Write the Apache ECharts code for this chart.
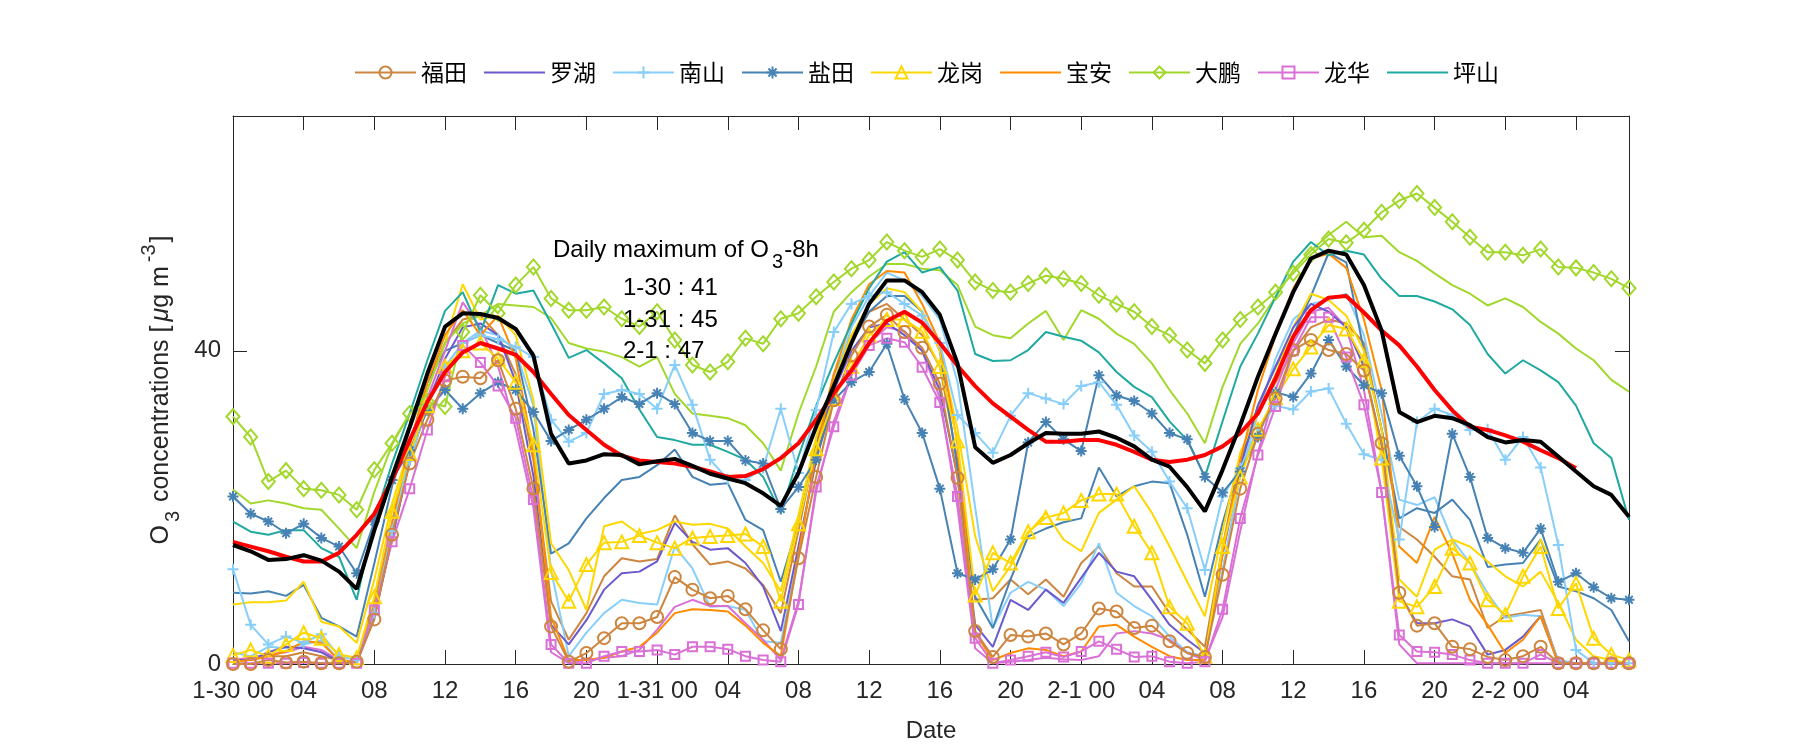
<!DOCTYPE html>
<html><head><meta charset="utf-8">
<script src="https://cdn.jsdelivr.net/npm/echarts@6/dist/echarts.min.js"></script>
<style>html,body{margin:0;padding:0;background:#fff}#c{width:1800px;height:750px}</style>
</head><body><div id="c"></div>
<script>
// ---------- tick labels / categories ----------
const dayLabels = ['1-30', '1-31', '2-1', '2-2'];
const nHours = 80;
const categories = [];
for (let i = 0; i < nHours; i++) {
  const d = Math.floor(i / 24), h = i % 24;
  categories.push(h === 0 ? dayLabels[d] + ' 00' : String(h).padStart(2, '0'));
}
const legendNames = ['福田', '罗湖', '南山', '盐田', '龙岗', '宝安', '大鹏', '龙华', '坪山'];
const dailyMaxLabels = ['1-30 : 41', '1-31 : 45', '2-1 : 47'];

// ---------- series values (hourly, O3 µg m-3) ----------
const futian = [0.0,0.0,0.5,0.2,0.3,0.1,0.1,0.3,
 5.7,16.5,25.6,31.2,36.2,36.7,36.5,38.8,32.6,22.4,
 4.8,0.3,1.4,3.3,5.2,5.2,6.0,11.1,9.5,
 8.4,8.7,7.0,4.3,1.9,13.5,23.9,
 33.7,39.4,43.1,44.6,42.4,40.4,35.8,23.8,4.2,
 0.9,3.7,3.5,3.9,2.5,3.9,7.1,6.7,4.6,4.9,
 2.9,1.4,0.9,11.4,22.4,29.4,33.9,
 40.1,41.4,40.1,39.6,37.5,28.2,9.1,4.9,5.2,2.2,1.9,0.9,0.5,1.0,2.2,0.1,0.1,0.1,0.1,0.1];
const futian2 = [0.5,0.5,1.0,1.0,1.5,1.0,0.5,0.3,
 8,18,28,36,41,44,44.5,42,37,26,
 8,3.1,6.5,11.2,13.5,13.1,13.4,19.0,15.3,
 12.7,13.1,12.2,10.1,6.5,17,28,
 37,42,45,46,44,42,38,26,8.2,
 8.4,10.8,8.9,10.8,8.6,12.9,15.0,11.6,9.9,9.9,
 6.5,4.4,2.2,15,26,32,36,
 40,43,44,43.5,41,30,17.5,15.9,13.7,11.2,10.8,4.6,6.1,6.5,6.9,0.3,0.1,0.1,0.1,0.1];
const luohu = [0.5,0.5,1.5,2.2,2.0,1.5,0.3,0.2,
 6,16,26,33,39,43,43.5,42,36,24,
 5,2.5,5.6,9.5,11.6,11.8,13.1,18.0,15.6,
 14.6,14.8,12.9,9.9,4.2,15,26,
 35,40,43,43.5,42,40,35,24,5,
 2.2,8.2,6.9,9.5,7.8,11.0,14.2,11.8,11.2,8.2,
 5.0,3.1,1.4,14,25,33,38,
 43,46,45,43,38,28,9,5.2,5.2,5.7,4.8,1.2,1.8,3.5,6.1,0.1,0.1,0.1,0.1,0.1];
const nanshan = [12.1,5.0,2.5,3.5,2.7,3.8,1.0,0.5,6.5,
 17,26,33,38,41,42,41.5,40.5,39.2,
 31.2,28.4,29.5,34.5,35.0,34.5,32.6,38.2,33.1,
 26.1,23.6,23.5,25,32.6,24.4,32.4,
 42.4,46.0,47,47.5,46,44.5,41,31.8,
 29.5,27.0,31.7,34.6,33.9,33.2,35.5,36.0,33.1,29.2,27.1,
 23.3,19.9,12.0,21.4,25,30,33,
 32.5,34.8,35.2,30.7,26.8,26.1,15.9,30.9,32.6,31.8,29.9,30.0,26.1,29.0,25.1,15.2,1.8,0.1,0.1,0.1];
const nanshan2 = [1.5,1.0,2.2,2.0,2.5,3.0,0.5,0.3,
 7,18,27,34,38,41,42.6,42,40,33,
 12,1.0,4.0,6.5,8.2,7.8,7.6,15.0,12.2,
 7.3,7.4,6.9,2.9,2.7,14,27,
 36,43,47,50,49,47,44,36,20,4.6,
 9.1,10.5,9.5,7.4,10.3,15.4,9.1,7.4,6.1,
 3.5,1.5,1.0,12,24,32,39,
 44,46,46.5,47.3,42,32,21,20.3,21.3,15.9,12.9,9,5.9,6.3,6.1,0.5,0.1,0.1,0.1,0.1];
const yantian = [21.4,19.2,18.2,16.7,17.9,16.1,15.0,11.6,18.2,23.5,27.3,32.4,
 35.0,32.6,34.6,36.0,35.0,32.2,28.5,29.9,31.2,32.6,34.1,33.2,34.6,33.2,29.5,
 28.5,28.5,26.0,25.6,19.8,22.6,26.1,33.7,36.0,37.3,40.9,33.8,29.5,22.4,11.6,10.8,12.1,15.9,28.3,30.9,28.7,27.2,36.9,34.3,33.6,32.0,
 29.5,28.7,23.9,21.9,24.6,29.0,34.7,34.1,37.1,41.4,38.0,35.6,34.6,26.6,22.7,17.5,29.4,23.9,16.1,14.8,14.2,17.3,10.5,11.6,9.8,8.4,8.2];
const yantian2 = [9.1,9.0,9.3,8.7,10.1,5.9,4.8,3.5,12.9,22.7,29.9,
 36,40,41,42,41,40,30,
 14.1,15.4,18.6,21.2,23.5,23.9,25.4,27.4,23.9,
 22.9,23.1,18.4,17.1,10.5,18,27.7,
 35,41,45,47,47,45,40,25,
 8.6,4.6,10.8,16.3,17.3,18.1,18.6,25.1,21.4,22.7,23.3,
 23.1,16.5,8.6,18,25.6,33,38,
 42,47,52.5,51.3,40,30,
 18.6,19.9,19.3,21.0,18.4,12.4,12.7,12.9,15.9,9.9,9.3,8.4,6.9,2.9];
const longgang = [1.1,1.8,1.0,2.5,4.0,3.3,1.2,0.8,8.6,19.5,26.9,
 33,38,40,41,39,36,28,
 11.7,8.0,12.7,15.5,15.6,16.4,15.5,14.8,16.1,
 16.3,16.4,16.6,15.0,8.0,17.9,27.5,
 33.9,38,42,44,44,42.5,38,28.5,
 8.8,14.2,12.9,16.9,18.7,19.3,20.9,21.7,21.7,17.6,14.2,
 7.3,5.2,1.0,15.0,23.9,30,34,
 37.7,40.5,43.3,42.8,38.8,26.3,8.0,7.3,9.9,14.8,12.9,8.2,6.3,11.2,15.0,7.1,10.3,3.3,1.2,0.5];
const longgang2 = [7.6,7.9,7.9,8.1,10.5,5.4,4.8,2.7,10.8,20.5,27.8,
 35,41,48.5,44,44.5,42,33.7,
 15.4,12.0,6.9,17.6,18.2,16.6,17.1,18.2,17.8,
 17.9,17.3,15.0,12.9,9.3,19,29,
 36,42,46,48,47.5,45,40,30,
 16.3,9.3,12.5,16.7,19.3,15.9,14.4,19.3,21.0,22.7,19.3,
 15,10.5,6.1,17,27,32,37,
 43,47.3,46.5,44.5,40,30,10.8,8.6,14.6,15.9,15.0,13.1,11.2,9.9,11.8,7.8,3.1,1.0,0.5,0.1];
const baoan = [0.3,0.5,1.0,1.6,2.9,2.7,0.5,0.2,
 7,18,28,36,42,45.2,42,44.5,39,27,
 6,0.5,0.5,0.8,1.6,2.2,4.0,6.5,7.0,
 6.9,6.7,4.9,2.7,1.0,14,27,
 37,44,48.5,50.2,50.0,46,41,28,4,
 0.5,1.4,2.0,1.8,1.0,1.6,4.8,5.0,3.5,2.2,
 1.0,0.5,0.5,14,26,35,42,
 48,51.8,52.4,50.6,44,35,15.0,12.9,18.8,14.1,8.2,5.0,1.4,3.1,6.1,0.1,0.1,0.1,0.1,0.1];
const dapeng = [31.6,29.0,23.3,24.7,22.4,22.2,21.6,19.7,24.8,28.2,32.0,33.5,32.9,
 42.4,47.1,44.8,48.4,50.7,46.7,45.2,45.2,45.6,44.1,43.1,45.0,41.4,38.2,
 37.3,38.6,41.6,40.9,44.1,44.8,46.9,48.8,50.5,51.6,53.9,52.8,52.0,53.0,51.6,48.8,47.7,47.5,48.6,49.6,49.2,48.6,47.1,46.0,45.0,43.1,
 42.0,40.1,38.4,41.4,44.0,45.6,47.5,49.9,52.3,54.3,53.8,55.4,57.7,59.2,60.1,58.3,56.5,54.5,52.6,52.6,52.2,53.0,50.7,50.6,50.0,49.2,48.0];
const dapeng2 = [22.3,20.5,20.9,20.5,19.9,19.7,17.3,14.8,
 22,28,32,35,41,
 43.5,44.5,46.0,45.8,45.6,44.2,41.0,40.3,39.9,39.2,38.0,39.2,34.5,32.0,
 31.7,31.4,30.5,28.2,24.7,
 32,38,45,47.5,49.5,51.1,51.1,50.5,50.3,48.4,43.1,42.0,41.6,43.5,45.1,41.4,45.2,44.1,42.2,40.9,38.4,
 35,32,28.2,
 35.4,40.9,43.5,46.9,50.3,52.8,54.8,56.5,54.5,54.7,52.6,51.5,49.9,48.4,47.3,45.8,46.7,45.6,43.7,42.2,40.3,38.8,36.3,34.8];
const longhua = [0.1,0.1,0.1,0.1,0.2,0.1,0.1,0.1,
 6.9,15.6,22.4,29.9,36.7,40.7,38.5,35.5,31.4,21.0,
 2.5,0.1,0.1,1.0,1.6,1.6,1.8,1.2,2.2,
 2.2,1.9,1.0,0.5,0.3,7.6,22.6,
 30.3,36.9,40.7,41.6,41.1,37.9,33.4,21.4,3.3,
 0.1,0.5,1.0,1.5,0.9,1.6,2.9,1.9,0.9,1.0,
 0.3,0.1,0.3,7.0,18.6,26.7,32.9,
 40,44.3,44.3,39.2,33.1,21.9,3.7,1.6,1.5,1.2,0.5,0.1,0.1,0.1,1.2,0.1,0.1,0.1,0.1,0.1];
const longhua2 = [0.5,0.8,1.2,1.5,2.2,1.8,0.5,0.1,
 6,16,26,34,40,46.2,43,38,30,20,
 1.5,0.1,0.5,0.8,1.0,1.8,4.4,7.3,8.2,
 7.4,7.4,5.2,3.1,0.5,8,22,
 31,37,41,43,42.5,40,34,20,2,
 0.1,0.3,0.5,0.8,0.6,0.5,1.0,3.9,4.2,3.9,
 3.1,1.4,0.5,6,17,27,35,
 41,45,45.5,43,35,22,2.5,0.1,0.1,0.1,0.1,0.1,0.1,0.1,0.1,0.1,0.1,0.1,0.1,0.1];
const pingshan = [18.2,16.9,16.5,17.1,17.1,14.8,13.7,8.2,18.4,25.6,32.0,
 38.8,45.1,47.5,42.4,48.4,47.3,47.7,43.5,39.1,40.1,38.4,36.5,32.5,
 29.0,28.6,28.0,28.0,27.1,26.1,23.9,19.3,26.5,33,
 38.5,43.5,48,51.4,52.6,50.0,50.7,47.7,39.6,38.7,38.8,40.1,42.4,41.8,41.3,39.8,37.3,35.4,34.1,
 31,28.6,23.9,31,38.0,
 42.2,46.9,51.4,53.9,52.2,52.8,52.3,49.2,47.0,47.0,46.3,45.3,43.3,39.6,37.1,38.8,37.5,36.0,33,28.2,26.3,18.4];
const meanO3 = [15.2,14.4,13.3,13.4,13.9,13.2,11.8,9.6,
 17.1,23.9,30.3,37.1,43.1,44.8,44.7,44.2,42.8,39.4,
 29.4,25.6,26.0,26.8,26.7,25.5,25.9,26.2,25.3,
 24.3,23.7,23.1,21.8,20.2,24.4,30.3,
 35.5,41,46,49,49,47.5,44.6,38.4,
 27.7,25.7,26.7,28.2,29.5,29.4,29.4,29.7,28.9,27.8,26.1,
 25.2,22.6,19.5,24.8,30.5,
 36.7,42.2,47.5,51.8,52.8,52.3,48.4,42.6,
 32.2,30.9,31.7,31.4,30.5,29.0,28.3,28.6,28.4,26.5,24.6,22.7,21.6,18.8];
const o3_8h = [15.6,15.0,14.4,13.7,13.1,13.1,14.2,16.5,19.2,23.5,28.6,
 33.5,37.3,39.8,41.0,40.3,39.5,37.3,34.5,
 31.8,29.9,28.0,26.6,26.0,25.8,25.6,25.2,
 24.6,23.9,24.0,24.9,26.3,28.2,31.2,34.6,
 37.5,41.0,43.8,45.0,43.6,41.0,38.1,35.5,33.3,
 31.6,29.9,28.4,28.4,28.6,28.6,28.0,27.1,26.1,
 25.8,26.1,26.7,27.8,29.5,32.0,
 36.5,41.8,45.2,46.8,47.0,44.9,42.6,40.7,38.0,35.0,
 32.4,30.3,29.9,29.2,28.4,27.3,26.3,25.0,
 null,null,null];

// ---------- styling ----------
const FONT = 'Liberation Sans';
const CJK = 'Noto Sans CJK SC';
const AX = '#262626';
const colors = {
  '福田': '#CD853F', '罗湖': '#6A5ACD', '南山': '#87CEFA', '盐田': '#4682B4', '龙岗': '#FFD700',
  '宝安': '#FF8C00', '大鹏': '#A2D82C', '龙华': '#DA70D6', '坪山': '#1FA9A0'
};
const SYM_PLUS = 'path://M5,0L5,10M0,5L10,5';
const SYM_STAR = 'path://M5,0L5,10M0,5L10,5M1.6,1.6L8.4,8.4M1.6,8.4L8.4,1.6';

function stationLine(name, data, sym, size, seriesName) {
  const c = colors[name];
  const s = {
    name: seriesName || name, type: 'line', data: data,
    lineStyle: { color: c, width: 2 },
    itemStyle: { color: 'rgba(255,255,255,0)' },
    symbol: 'none', z: 3
  };
  if (sym) {
    s.symbol = sym; s.symbolSize = size; s.showSymbol = true; s.showAllSymbol = true;
    s.itemStyle = { color: 'rgba(255,255,255,0)', borderColor: c, borderWidth: 2 };
  }
  return s;
}

const series = [
  stationLine('福田', futian2, null, 0, '福田 (2)'),
  stationLine('南山', nanshan2, null, 0, '南山 (2)'),
  stationLine('盐田', yantian2, null, 0, '盐田 (2)'),
  stationLine('龙岗', longgang2, null, 0, '龙岗 (2)'),
  stationLine('大鹏', dapeng2, null, 0, '大鹏 (2)'),
  stationLine('龙华', longhua2, null, 0, '龙华 (2)'),
  stationLine('罗湖', luohu, null, 0),
  stationLine('宝安', baoan, null, 0),
  stationLine('坪山', pingshan, null, 0),
  stationLine('南山', nanshan, SYM_PLUS, 11),
  stationLine('盐田', yantian, SYM_STAR, 11),
  stationLine('龙岗', longgang, 'triangle', 13),
  stationLine('大鹏', dapeng, 'diamond', [13, 15]),
  stationLine('龙华', longhua, 'rect', 9),
  stationLine('福田', futian, 'circle', 12),
  { name: 'O3-8h', type: 'line', data: o3_8h, symbol: 'none', connectNulls: false,
    lineStyle: { color: '#FF0000', width: 4 }, itemStyle: { color: '#FF0000' }, z: 4 },
  { name: 'mean', type: 'line', data: meanO3, symbol: 'none',
    lineStyle: { color: '#000000', width: 4 }, itemStyle: { color: '#000000' }, z: 5 }
];

const tickCommon = { show: true, inside: true, interval: 3, length: 14, lineStyle: { color: AX, width: 1 } };
const lineCommon = { show: true, onZero: false, lineStyle: { color: AX, width: 1 } };

const chart = echarts.init(document.getElementById('c'), null, { renderer: 'canvas' });
chart.setOption({
  backgroundColor: '#ffffff',
  animation: false,
  grid: { left: 233, right: 171, top: 116, bottom: 86, containLabel: false, outerBoundsMode: 'none' },
  legend: {
    data: legendNames, orient: 'horizontal', left: 349, top: 56,
    itemWidth: 61, itemHeight: 15, itemGap: 16,
    textStyle: { fontFamily: CJK, fontSize: 23, color: '#000' },
    selectedMode: false
  },
  xAxis: [
    { type: 'category', data: categories, boundaryGap: false, position: 'bottom',
      axisLine: lineCommon, axisTick: tickCommon,
      axisLabel: { interval: 3, margin: 15, fontFamily: FONT, fontSize: 24, color: AX },
      splitLine: { show: false },
      name: 'Date', nameLocation: 'middle', nameGap: 55,
      nameTextStyle: { fontFamily: FONT, fontSize: 24, color: AX } },
    { type: 'category', data: categories, boundaryGap: false, position: 'top',
      axisLine: lineCommon, axisTick: tickCommon, axisLabel: { show: false }, splitLine: { show: false } }
  ],
  yAxis: [
    { type: 'value', min: 0, max: 70, interval: 40, position: 'left',
      axisLine: lineCommon, axisTick: { show: true, inside: true, length: 14, lineStyle: { color: AX } },
      axisLabel: { fontFamily: FONT, fontSize: 24, color: AX, margin: 12, showMaxLabel: false },
      splitLine: { show: false },
      name: '{n|O}{s|3}{n| concentrations [}{i|μ}{n|g m}{p|-3}{n|]}',
      nameLocation: 'middle', nameGap: 48,
      nameTextStyle: {
        color: AX, fontFamily: FONT, fontSize: 25,
        rich: {
          n: { fontFamily: FONT, fontSize: 25, color: AX, lineHeight: 44 },
          i: { fontFamily: FONT, fontSize: 25, color: AX, lineHeight: 44, fontStyle: 'italic', padding: [0, 0, 0, 4] },
          s: { fontFamily: FONT, fontSize: 20, color: AX, lineHeight: 6, verticalAlign: 'bottom', padding: [0, 2, 0, 3] },
          p: { fontFamily: FONT, fontSize: 20, color: AX, lineHeight: 6, verticalAlign: 'top', padding: [0, 2, 0, 4] }
        }
      } },
    { type: 'value', min: 0, max: 70, interval: 40, position: 'right',
      axisLine: lineCommon, axisTick: { show: true, inside: true, length: 14, lineStyle: { color: AX } },
      axisLabel: { show: false }, splitLine: { show: false } }
  ],
  graphic: [
    { type: 'text', left: 553, top: 238, z: 100,
      style: { text: '{n|Daily maximum of O}{s|3}{n|-8h}', fill: '#000',
        rich: { n: { fontFamily: FONT, fontSize: 24, fill: '#000', lineHeight: 44 },
                s: { fontFamily: FONT, fontSize: 20, fill: '#000', lineHeight: 6, verticalAlign: 'bottom', padding: [0, 1, 0, 3] } } } },
    { type: 'text', left: 623, top: 276, z: 100,
      style: { text: dailyMaxLabels[0], fontFamily: FONT, fontSize: 24, fill: '#000' } },
    { type: 'text', left: 623, top: 308, z: 100,
      style: { text: dailyMaxLabels[1], fontFamily: FONT, fontSize: 24, fill: '#000' } },
    { type: 'text', left: 623, top: 339, z: 100,
      style: { text: dailyMaxLabels[2], fontFamily: FONT, fontSize: 24, fill: '#000' } }
  ],
  series: series
});
</script>
</body></html>
